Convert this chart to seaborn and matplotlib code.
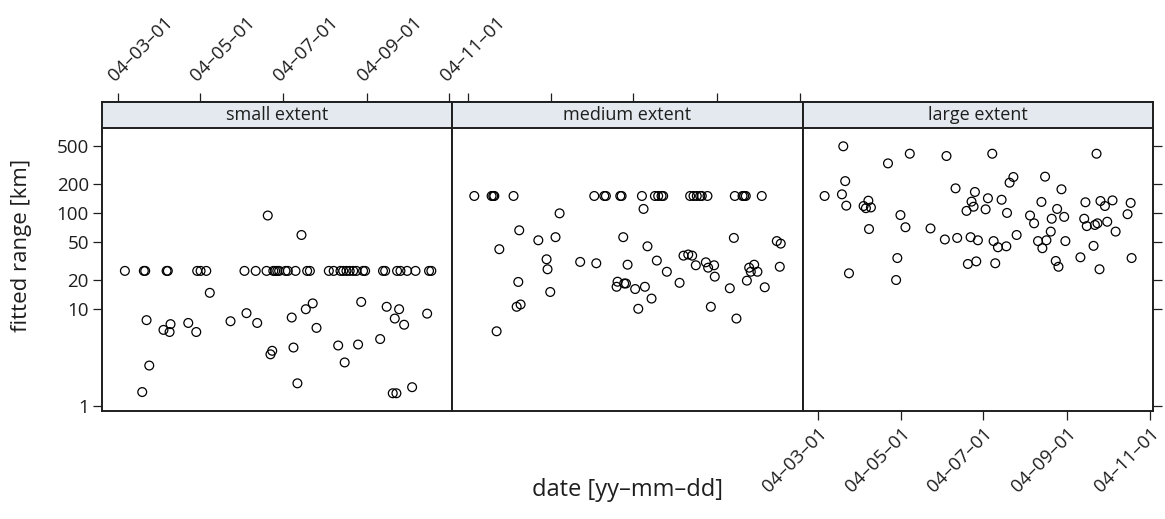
import pandas as pd
import matplotlib
matplotlib.use("Agg")
import matplotlib.pyplot as plt
import matplotlib.dates as mdates
from matplotlib.ticker import NullLocator
from matplotlib.patches import Rectangle
import seaborn as sns

# --- DATA ---
START = pd.Timestamp("2004-03-01")
PANELS = ["small extent", "medium extent", "large extent"]
DATE_TICKS = ["2004-03-01", "2004-05-01", "2004-07-01", "2004-09-01", "2004-11-01"]
Y_TICKS = [1, 10, 20, 50, 100, 200, 500]

# days after 2004-03-01 / fitted range [km]
small_day = [5.4, 19.4, 20.4, 36.2, 37.1, 58.8, 61.3, 65.5, 93.7, 102, 110, 115,
             116.4, 117.9, 119.3, 124, 125.7, 131.4, 140, 142, 156, 159.6, 164.6,
             166.6, 169, 171.4, 174, 176.4, 181.3, 182.8, 196, 197.6, 206.4, 208.9,
             213.8, 220, 230, 231.7,
             110.9, 135.8, 68.1, 144.1, 179.9, 139, 198.7, 207.9, 95.2, 228.6, 21.4,
             83.4, 128.6, 204.7, 52.2, 103.1, 39.1, 211.6, 33.9, 38.4, 58.1, 146.9,
             193.9, 162.9, 177.6, 129.9, 114.2, 112.9, 167.7, 23.4, 132.8, 217.5,
             18.2, 203.2, 205.9]
small_km = [25] * 38 + [
    94, 59, 14.8, 11.5, 11.9, 10, 10.6, 10, 9.1, 9, 7.7,
    7.5, 8.2, 8, 7.2, 7.2, 7.0, 6.9, 6.1, 5.8, 5.8, 6.4,
    4.9, 4.2, 4.3, 4.0, 3.7, 3.4, 2.8, 2.6, 1.7, 1.55,
    1.38, 1.34, 1.34]

medium_day = [4.7, 17.5, 18.7, 19.5, 33.7, 93.3, 100.7, 101.9, 112.5, 113.5, 128.5,
              138.1, 140.5, 143, 144.2, 164.1, 166.6, 169, 171.5, 172.7, 176.9, 197.1,
              202.8, 204, 205.2, 217,
              129.7, 67.7, 37.9, 52, 64.7, 114.7, 196.4, 228.1, 231, 23.2, 132.6, 58.1,
              58.8, 82.9, 94.8, 117.9, 139.5, 146.9, 159.2, 162.7, 165.6, 168.3, 175.7,
              177.4, 181.8, 182.3, 207.7, 211.4, 208.9, 213.8, 230.3, 37.2, 110.5,
              109.8, 115.4, 116.7, 130.7, 123.5, 156.3, 206, 193.4, 219.2, 60.8, 135.6,
              36, 38.9, 125.8, 179.4, 198.3, 21.2]
medium_km = [150] * 26 + [
    110, 99, 66, 52, 56, 56, 55, 51, 48, 42, 45, 33,
    26, 31, 30, 29, 32, 24.5, 36, 37, 36, 28.6, 30.7,
    27, 28.6, 21.8, 27, 29, 24.5, 24.5, 27.6, 19.2, 19.3,
    17.1, 18.5, 18.5, 17.1, 16.2, 18.8, 19.8, 16.5, 16.9, 15.1, 12.9,
    10.6, 11.2, 10.1, 10.6, 8.0, 5.9]

large_day = [18.5, 67.6, 94.7, 128.5, 205.5, 51.5, 19.9, 144.1, 141.3, 167.5, 101.4,
             179.6, 4.7, 17.5, 115.7, 20.7, 33.5, 37, 35.2, 38.9, 113.2, 114.7, 125.3,
             135.4, 109.5, 123.6, 139.4, 164.8, 176.4, 197.3, 208.4, 211.7, 217.3,
             230.7, 228.4, 60.7, 156.4, 172.4, 181.6, 196.4, 159.4, 198.3, 204.3,
             206.2, 213.4, 37.5, 64.4, 82.9, 219.6, 146.5, 171.7, 93.5, 102.6, 112.5,
             117.9, 129.5, 162.3, 168.5, 182.5, 132.7, 138.9, 165.5, 203.3, 58.4,
             193.6, 231.4, 110.5, 116.7, 130.7, 175.4, 177.4, 207.7, 22.7, 57.5]
large_km = [492, 412, 390, 412, 412, 327, 214, 236, 206, 238, 180,
            176, 150, 156, 165, 119, 118, 134, 112, 114, 131, 116, 142,
            137, 105, 109, 100, 130, 110, 129, 133, 118, 135,
            127, 97, 95, 94, 87, 91, 87, 78, 73, 75,
            78, 81, 68, 71, 69, 64, 59, 64, 53, 55, 56,
            52, 51, 51, 52, 51, 44, 45, 43, 45.5, 34,
            34.6, 34, 29.5, 31.4, 30, 31.7, 27.6, 26, 23.6, 20.1]

STRIP_COLOR = "#e3e9ee"
INK = "#1e1e1e"
FIG_W, FIG_H = 1165, 519
PANEL_TOP, PANEL_BOTTOM = 128, 411
STRIP_PX = 26


def build_frame():
    parts = []
    for name, days, km in [(PANELS[0], small_day, small_km),
                           (PANELS[1], medium_day, medium_km),
                           (PANELS[2], large_day, large_km)]:
        parts.append(pd.DataFrame({
            "date": START + pd.to_timedelta(days, unit="D"),
            "km": km,
            "extent": name,
        }))
    return pd.concat(parts, ignore_index=True)


def main():
    sns.set_theme(style="white")
    plt.rcParams["font.family"] = ["Open Sans", "DejaVu Sans"]

    df = build_frame()
    g = sns.relplot(data=df, x="date", y="km", col="extent", col_order=PANELS,
                    kind="scatter", marker="o", s=40, facecolor="none",
                    edgecolor="black", linewidth=0.9, height=4, aspect=1)
    fig = g.figure
    fig.set_size_inches(FIG_W / 100, FIG_H / 100)
    fig.subplots_adjust(left=102 / FIG_W, right=1153 / FIG_W,
                        bottom=1 - PANEL_BOTTOM / FIG_H, top=1 - PANEL_TOP / FIG_H,
                        wspace=0)
    g.set_titles("")
    g.set_axis_labels("", "")

    strip_frac = STRIP_PX / (PANEL_BOTTOM - PANEL_TOP)
    strip_pt = STRIP_PX * 72 / 100
    xticks = pd.to_datetime(DATE_TICKS)

    for i, (ax, name) in enumerate(zip(g.axes.flat, PANELS)):
        ax.set_yscale("log")
        ax.set_ylim(0.877, 762)
        ax.set_xlim(START - pd.Timedelta(days=11.5), START + pd.Timedelta(days=247.2))
        ax.set_yticks(Y_TICKS)
        ax.set_yticklabels([str(v) for v in Y_TICKS])
        ax.yaxis.set_minor_locator(NullLocator())
        ax.set_xticks(xticks)
        ax.xaxis.set_major_formatter(mdates.DateFormatter("%y\u2013%m\u2013%d"))
        ax.xaxis.set_minor_locator(NullLocator())

        for sp in ax.spines.values():
            sp.set_visible(True)
            sp.set_color(INK)
            sp.set_linewidth(1.4)
        ax.spines["top"].set_position(("outward", strip_pt))

        ax.tick_params(axis="both", which="major", direction="out", length=6.5,
                       width=0.9, color=INK, labelcolor=INK, labelsize=13.5, pad=3)
        ax.tick_params(axis="x", bottom=(i == 2), labelbottom=(i == 2),
                       top=(i < 2), labeltop=(i == 0))
        ax.tick_params(axis="y", left=(i == 0), labelleft=(i == 0),
                       right=(i == 2), labelright=False)

        if i == 0:
            ax.tick_params(axis="x", pad=6)
            for lbl in ax.get_xticklabels():
                lbl.set_rotation(45)
                lbl.set_ha("left")
                lbl.set_va("bottom")
                lbl.set_rotation_mode("anchor")
        if i == 2:
            for lbl in ax.get_xticklabels():
                lbl.set_rotation(45)
                lbl.set_ha("right")
                lbl.set_va("top")
                lbl.set_rotation_mode("anchor")

        # lattice-style strip
        ax.add_patch(Rectangle((0, 1), 1, strip_frac, transform=ax.transAxes,
                               facecolor=STRIP_COLOR, edgecolor=INK,
                               linewidth=1.4, clip_on=False, zorder=3))
        ax.text(0.5, 1 + strip_frac / 2, name, transform=ax.transAxes,
                ha="center", va="center", fontsize=13, color=INK, zorder=4)

    fig.text(22 / FIG_W, 1 - 245 / FIG_H, "fitted range [km]", rotation=90,
             ha="center", va="center", fontsize=16, color=INK)
    fig.text(627 / FIG_W, 1 - 490 / FIG_H, "date [yy\u2013mm\u2013dd]",
             ha="center", va="center", fontsize=17, color=INK)

    fig.savefig("out.png", dpi=100)
    plt.close(fig)


if __name__ == "__main__":
    main()
